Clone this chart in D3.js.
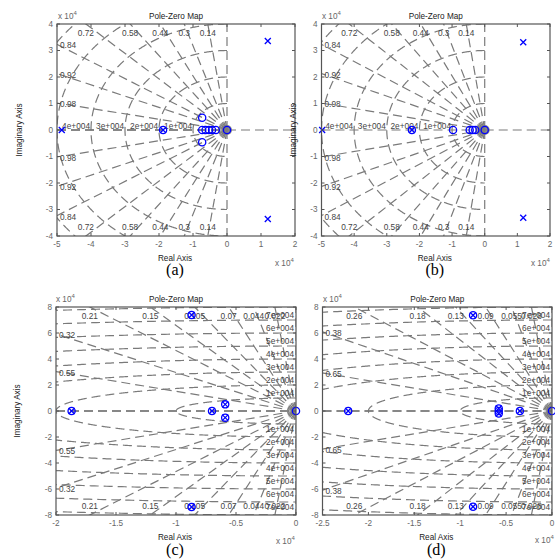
<!DOCTYPE html>
<html><head><meta charset="utf-8">
<script src="https://cdn.jsdelivr.net/npm/d3@7"></script>
<style>
body{margin:0;background:#fff}
svg{display:block}
text{font-family:"Liberation Sans",Arial,sans-serif}
</style>
</head><body>
<svg id="chart" width="555" height="560"></svg>
<script>
// ---------- data ----------
const xTicksAB = [-5,-4,-3,-2,-1,0,1,2];
const yTicksAB = [-4,-3,-2,-1,0,1,2,3,4];
const xTicksC = [-2,-1.5,-1,-0.5,0];
const xTicksD = [-2.5,-2,-1.5,-1,-0.5,0];
const yTicksCD = [-8,-6,-4,-2,0,2,4,6,8];

const zetaAB = [0.14,0.3,0.44,0.58,0.72,0.84,0.92,0.98];
const zetaLabAB = ["0.14","0.3","0.44","0.58","0.72","0.84","0.92","0.98"];
const zetaC = [0.022,0.044,0.07,0.105,0.15,0.21,0.32,0.55];
const zetaLabC = ["0.022","0.044","0.07","0.105","0.15","0.21","0.32","0.55"];
const zetaD = [0.028,0.055,0.09,0.13,0.18,0.26,0.38,0.65];
const zetaLabD = ["0.028","0.055","0.09","0.13","0.18","0.26","0.38","0.65"];

const wnCircles = [1,2,3,4,5,6,7,8,9,10];
const wnLabelsAB = [1,2,3,4];
const wnLabelsCD = [1,2,3,4,5,6,7];

const polesA = [[-4.86,0],[1.2,3.36],[1.2,-3.36],[-1.88,0]];
const zerosA = [[-1.88,0],[-0.73,0.46],[-0.73,-0.46],[-0.73,0],[-0.63,0],[-0.53,0],[-0.44,0],[-0.33,0],[0,0]];
const polesB = [[-4.98,0],[1.18,3.31],[1.18,-3.31],[-2.23,0]];
const zerosB = [[-2.23,0],[-0.97,0],[-0.46,0],[-0.37,0],[-0.29,0],[0,0]];
const polesC = [[-1.87,0],[-0.87,7.38],[-0.87,-7.38],[-0.7,0],[-0.59,0.51],[-0.59,-0.51]];
const zerosC = [[-1.87,0],[-0.87,7.38],[-0.87,-7.38],[-0.7,0],[-0.59,0.51],[-0.59,-0.51],[0,0]];
const polesD = [[-2.22,0],[-0.86,7.36],[-0.86,-7.36],[-0.58,0.2],[-0.58,-0.2],[-0.35,0]];
const zerosD = [[-2.22,0],[-0.86,7.36],[-0.86,-7.36],[-0.58,0.2],[-0.58,-0.2],[-0.58,0],[-0.35,0],[0,0]];

const panelNames = ["(a)","(b)","(c)","(d)"];

// ---------- layout ----------
const panels = [
  {x0:57,x1:295,y0:24,y1:236,xd:[-5,2],yd:[-4,4],xt:xTicksAB,yt:yTicksAB,zeta:zetaAB,zlab:zetaLabAB,wnLab:wnLabelsAB,mode:"real",solidNeg:true,
   poles:polesA,zeros:zerosA,name:panelNames[0],ylabX:19,capY:275,expTop:[58,19],expBot:[275,265.5]},
  {x0:321.5,x1:550,y0:24,y1:236,xd:[-5,2],yd:[-4,4],xt:xTicksAB,yt:yTicksAB,zeta:zetaAB,zlab:zetaLabAB,wnLab:wnLabelsAB,mode:"real",solidNeg:false,
   poles:polesB,zeros:zerosB,name:panelNames[1],ylabX:293,capY:275,expTop:[322,19],expBot:[531,265.5]},
  {x0:56,x1:296,y0:307,y1:515,xd:[-2,0],yd:[-8,8],xt:xTicksC,yt:yTicksCD,zeta:zetaC,zlab:zetaLabC,wnLab:wnLabelsCD,mode:"imag",solidNeg:true,
   poles:polesC,zeros:zerosC,name:panelNames[2],ylabX:17,capY:555,expTop:[56,302],expBot:[276,544]},
  {x0:322.5,x1:552,y0:307,y1:515,xd:[-2.5,0],yd:[-8,8],xt:xTicksD,yt:yTicksCD,zeta:zetaD,zlab:zetaLabD,wnLab:wnLabelsCD,mode:"imag",solidNeg:true,
   poles:polesD,zeros:zerosD,name:panelNames[3],ylabX:null,capY:555,expTop:[323,302],expBot:[535,543]}
];

const svg = d3.select("#chart");
const gridColor = "#7a7a7a";
const dash = "9,5";
const boxColor = "#555";
const blue = "#0000ff";

panels.forEach((p,i) => {
  const x = d3.scaleLinear().domain(p.xd).range([p.x0,p.x1]);
  const y = d3.scaleLinear().domain(p.yd).range([p.y1,p.y0]);
  const line = d3.line().x(d=>x(d[0])).y(d=>y(d[1]));
  const g = svg.append("g");
  const cid = "clip"+i;
  svg.append("clipPath").attr("id",cid).append("rect")
    .attr("x",p.x0).attr("y",p.y0).attr("width",p.x1-p.x0).attr("height",p.y1-p.y0);

  const grid = g.append("g").attr("clip-path",`url(#${cid})`)
    .attr("fill","none").attr("stroke",gridColor).attr("stroke-width",1.2).attr("stroke-dasharray",dash);

  // natural frequency semicircles
  wnCircles.forEach(w => {
    const pts = d3.range(0,721).map(k => {
      const th = Math.PI/2 + Math.PI*k/720;
      return [w*Math.cos(th), w*Math.sin(th)];
    });
    grid.append("path").attr("d", line(pts));
  });
  // damping rays
  p.zeta.forEach(z => [1,-1].forEach(s => {
    grid.append("path").attr("d", line([[0,0],[-z*300, s*Math.sqrt(1-z*z)*300]]));
  }));
  // axes through origin
  grid.append("path").attr("d", line([[0,0],[0,p.yd[1]*3]]));
  grid.append("path").attr("d", line([[0,0],[0,p.yd[0]*3]]));
  grid.append("path").attr("d", line([[0,0],[p.xd[1]+5,0]]));
  grid.append("path").attr("d", line([[p.xd[0],0],[0,0]]));
  if (p.solidNeg) {
    grid.append("path").attr("d", line([[p.xd[0],0],[0,0]])).attr("stroke-dasharray",null).attr("stroke","#767676").attr("stroke-width",1.4);
  }
  // dense blob at origin
  g.append("g").attr("clip-path",`url(#${cid})`).append("circle")
    .attr("cx",x(0)).attr("cy",y(0)).attr("r",5).attr("fill","#7d7d7d").attr("opacity",0.9);

  // damping labels
  const lab = g.append("g").attr("font-size","8.3px").attr("fill","#444");
  p.zeta.forEach((z,k) => {
    const slope = Math.sqrt(1-z*z)/z;
    const yAtLeft = -p.xd[0]*slope;
    if (yAtLeft > p.yd[1]) {
      const xt = -p.yd[1]/slope;
      lab.append("text").attr("x",x(xt)).attr("y",p.y0+9).attr("text-anchor","middle").attr("dominant-baseline","central").text(p.zlab[k]);
      lab.append("text").attr("x",x(xt)).attr("y",p.y1-9).attr("text-anchor","middle").attr("dominant-baseline","central").text(p.zlab[k]);
    } else {
      lab.append("text").attr("x",p.x0+3).attr("y",y(yAtLeft)+1).attr("dominant-baseline","central").text(p.zlab[k]);
      lab.append("text").attr("x",p.x0+3).attr("y",y(-yAtLeft)+1).attr("dominant-baseline","central").text(p.zlab[k]);
    }
  });
  // natural frequency labels
  p.wnLab.forEach(w => {
    const t = w + "e+004";
    if (p.mode === "real") {
      lab.append("text").attr("x",x(-w)-1).attr("y",y(0)-4).attr("text-anchor","end").attr("dominant-baseline","central").text(t);
    } else {
      lab.append("text").attr("x",x(0)-2).attr("y",y(w)-5).attr("text-anchor","end").attr("dominant-baseline","central").text(t);
      lab.append("text").attr("x",x(0)-2).attr("y",y(-w)+5).attr("text-anchor","end").attr("dominant-baseline","central").text(t);
    }
  });

  // markers
  const mk = g.append("g").attr("fill","none").attr("stroke",blue).attr("stroke-width",1.3);
  p.zeros.forEach(d => mk.append("circle").attr("cx",x(d[0])).attr("cy",y(d[1])).attr("r",3.6));
  p.poles.forEach(d => {
    const cx = x(d[0]), cy = y(d[1]), r = 3;
    mk.append("path").attr("d",`M${cx-r},${cy-r}L${cx+r},${cy+r}M${cx-r},${cy+r}L${cx+r},${cy-r}`);
  });

  // box and ticks
  g.append("rect").attr("x",p.x0).attr("y",p.y0).attr("width",p.x1-p.x0).attr("height",p.y1-p.y0)
    .attr("fill","none").attr("stroke",boxColor).attr("stroke-width",1.2);
  const tk = g.append("g").attr("stroke",boxColor).attr("stroke-width",1);
  p.xt.forEach(t => {
    tk.append("line").attr("x1",x(t)).attr("x2",x(t)).attr("y1",p.y1).attr("y2",p.y1-3);
    tk.append("line").attr("x1",x(t)).attr("x2",x(t)).attr("y1",p.y0).attr("y2",p.y0+3);
  });
  p.yt.forEach(t => {
    tk.append("line").attr("x1",p.x0).attr("x2",p.x0+3).attr("y1",y(t)).attr("y2",y(t));
    tk.append("line").attr("x1",p.x1).attr("x2",p.x1-3).attr("y1",y(t)).attr("y2",y(t));
  });
  const tl = g.append("g").attr("font-size","8.2px").attr("fill","#666");
  p.xt.forEach(t => tl.append("text").attr("x",x(t)).attr("y",p.y1+11).attr("text-anchor","middle").text(t));
  p.yt.forEach(t => tl.append("text").attr("x",p.x0-4).attr("y",y(t)).attr("text-anchor","end").attr("dominant-baseline","central").text(t));

  // exponent labels
  [p.expTop,p.expBot].forEach(e => {
    const tx = tl.append("text").attr("x",e[0]).attr("y",e[1]);
    tx.append("tspan").text("x 10");
    tx.append("tspan").attr("dy",-4).attr("font-size","6px").text("4");
  });

  // titles
  const cx = (p.x0+p.x1)/2;
  g.append("text").attr("x",cx).attr("y",p.y0-5).attr("text-anchor","middle").attr("font-size","8.2px").attr("fill","#222").text("Pole-Zero Map");
  g.append("text").attr("x",cx-1).attr("y",p.y1+25).attr("text-anchor","middle").attr("font-size","8.2px").attr("fill","#222").text("Real Axis");
  if (p.ylabX !== null) {
    g.append("text").attr("transform",`translate(${p.ylabX},${(p.y0+p.y1)/2}) rotate(-90)`)
      .attr("text-anchor","middle").attr("dominant-baseline","central").attr("font-size","8.2px").attr("fill","#222").text("Imaginary Axis");
  }
  g.append("text").attr("x",cx-1).attr("y",p.capY).attr("text-anchor","middle")
    .style("font-family","'Liberation Serif','Times New Roman',serif")
    .attr("font-size","16px").attr("fill","#000").text(p.name);
});
</script>
</body></html>
